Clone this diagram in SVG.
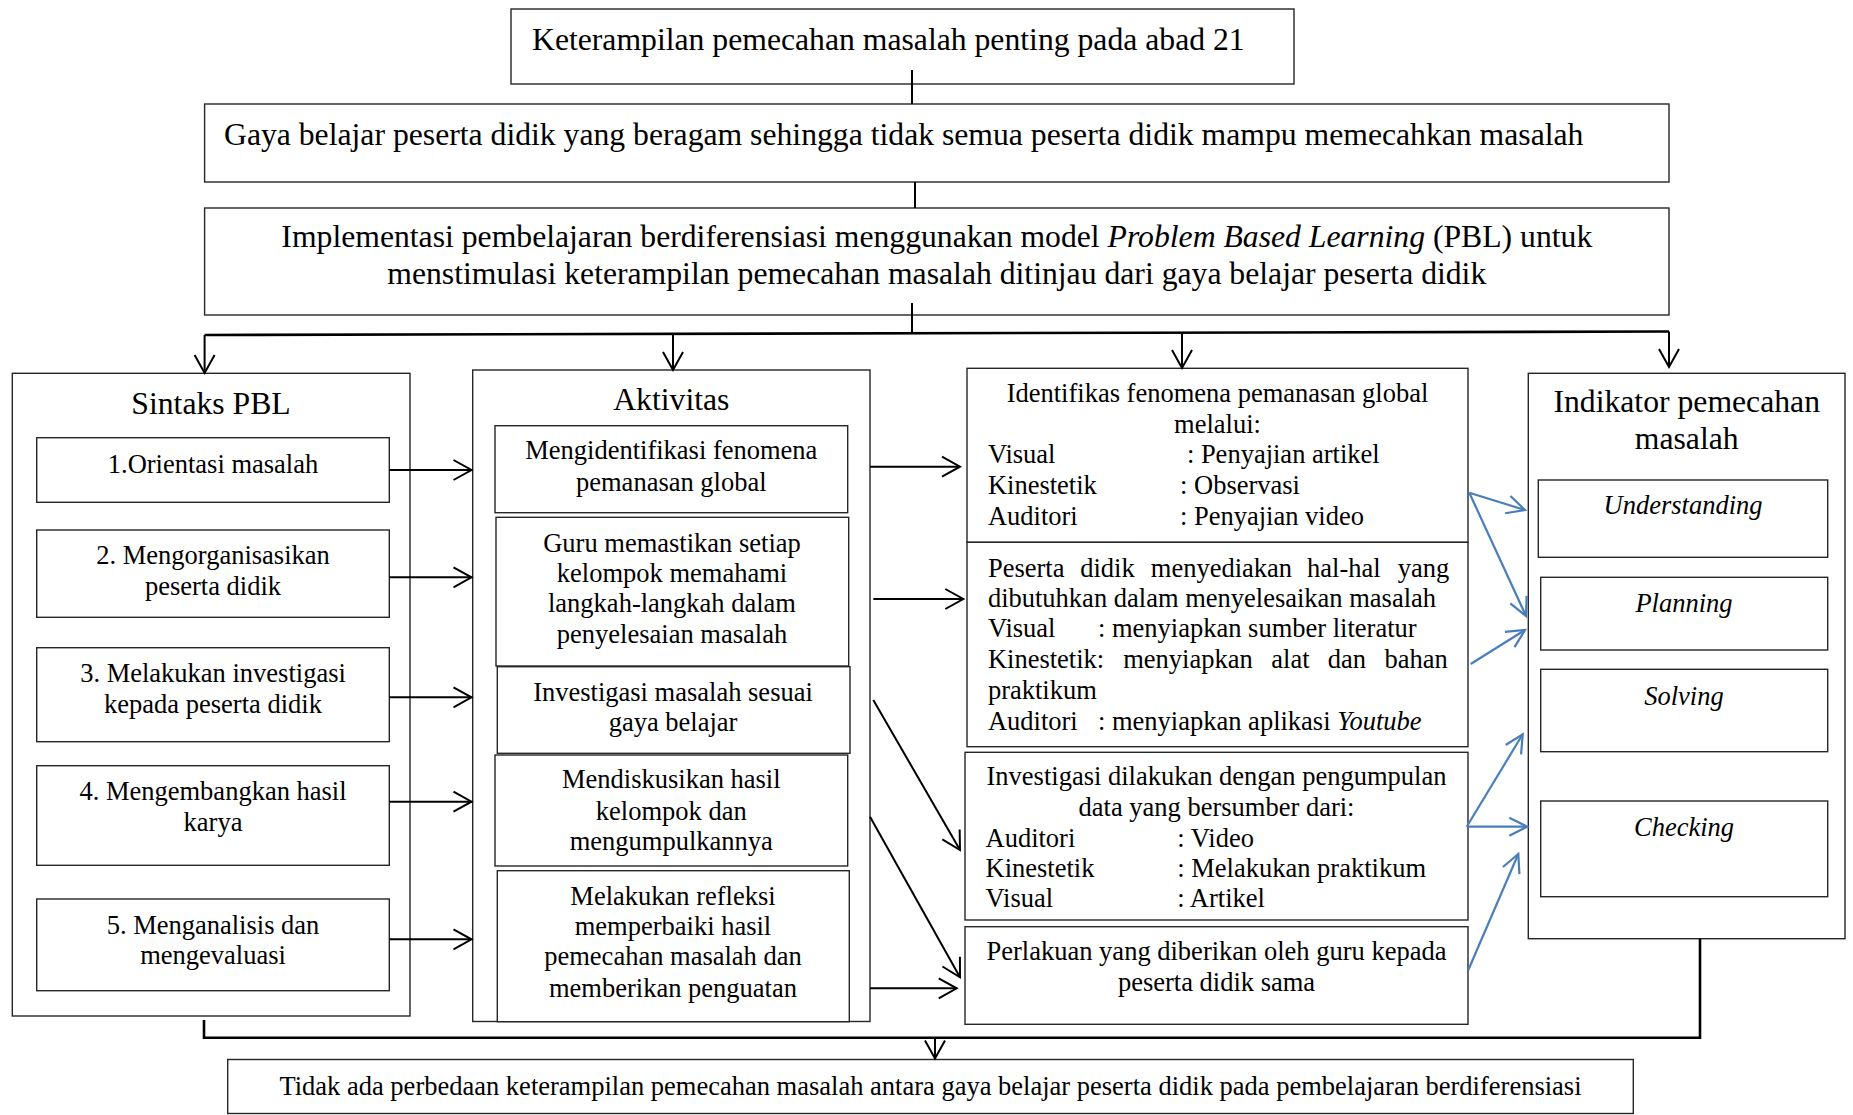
<svg xmlns="http://www.w3.org/2000/svg" width="1853" height="1115" viewBox="0 0 1853 1115">
<style>
.box{fill:#fff;stroke:#262626;stroke-width:1.4}
.t{font-family:"Liberation Serif","Times New Roman",serif;font-size:26.5px;fill:#000}
.h{font-size:31.7px}
.c{text-anchor:middle}
.i{font-style:italic}
.conn{stroke:#000;stroke-width:2;fill:none}
.thick{stroke:#000;stroke-width:2.6;fill:none}
.blue{stroke:#4a7ebb;stroke-width:2.2;fill:none}
</style>
<defs>
<marker id="ah" markerUnits="userSpaceOnUse" markerWidth="24" markerHeight="26" viewBox="0 0 24 26" refX="21" refY="13" orient="auto">
<path d="M3,3 L21,13 L3,23" fill="none" stroke="#000" stroke-width="2"/>
</marker>
<marker id="ahb" markerUnits="userSpaceOnUse" markerWidth="24" markerHeight="24" viewBox="0 0 24 24" refX="21" refY="12" orient="auto">
<path d="M3,3 L21,12 L3,21" fill="none" stroke="#4a7ebb" stroke-width="2.2"/>
</marker>
</defs>
<rect width="1853" height="1115" fill="#fff"/>

<g id="top">
<rect class="box" x="511" y="9" width="783" height="75"/>
<text class="t h" x="532" y="50">Keterampilan pemecahan masalah penting pada abad 21</text>
</g>

<g id="gaya">
<rect class="box" x="204.6" y="104" width="1464.4" height="78"/>
<text class="t h" x="224" y="144.5">Gaya belajar peserta didik yang beragam sehingga tidak semua peserta didik mampu memecahkan masalah</text>
</g>

<g id="implementasi">
<rect class="box" x="204.6" y="208" width="1464.4" height="107"/>
<text class="t h c" x="936.8" y="247">Implementasi pembelajaran berdiferensiasi menggunakan model <tspan class="i">Problem Based Learning</tspan> (PBL) untuk</text>
<text class="t h c" x="936.8" y="284">menstimulasi keterampilan pemecahan masalah ditinjau dari gaya belajar peserta didik</text>
</g>

<g id="sintaks">
<rect class="box" x="12.3" y="373.3" width="397.7" height="642.7"/>
<text class="t h c" x="211" y="414">Sintaks PBL</text>
<g id="s1"><rect class="box" x="36.7" y="437.7" width="352.6" height="64.6"/>
<text class="t c" x="213" y="472.7">1.Orientasi masalah</text></g>
<g id="s2"><rect class="box" x="36.7" y="530" width="352.6" height="87.3"/>
<text class="t c" x="213" y="564">2. Mengorganisasikan</text>
<text class="t c" x="213" y="595">peserta didik</text></g>
<g id="s3"><rect class="box" x="36.7" y="647.7" width="352.6" height="94"/>
<text class="t c" x="213" y="681.7">3. Melakukan investigasi</text>
<text class="t c" x="213" y="713.3">kepada peserta didik</text></g>
<g id="s4"><rect class="box" x="36.7" y="765.7" width="352.6" height="99.6"/>
<text class="t c" x="213" y="800">4. Mengembangkan hasil</text>
<text class="t c" x="213" y="830.7">karya</text></g>
<g id="s5"><rect class="box" x="36.7" y="899" width="352.6" height="91.7"/>
<text class="t c" x="213" y="934">5. Menganalisis dan</text>
<text class="t c" x="213" y="964">mengevaluasi</text></g>
</g>

<g id="aktivitas">
<rect class="box" x="472.7" y="370" width="397.3" height="651.5"/>
<text class="t h c" x="671.3" y="410">Aktivitas</text>
<g id="a1"><rect class="box" x="495" y="425.7" width="352.7" height="87"/>
<text class="t c" x="671.3" y="459.3">Mengidentifikasi fenomena</text>
<text class="t c" x="671.3" y="490.7">pemanasan global</text></g>
<g id="a2"><rect class="box" x="496" y="517.3" width="352.7" height="148.7"/>
<text class="t c" x="672" y="551.7">Guru memastikan setiap</text>
<text class="t c" x="672" y="581.7">kelompok memahami</text>
<text class="t c" x="672" y="612.3">langkah-langkah dalam</text>
<text class="t c" x="672" y="643.3">penyelesaian masalah</text></g>
<g id="a3"><rect class="box" x="497.3" y="666.7" width="352.7" height="86.6"/>
<text class="t c" x="673" y="700.7">Investigasi masalah sesuai</text>
<text class="t c" x="673" y="730.7">gaya belajar</text></g>
<g id="a4"><rect class="box" x="495" y="755" width="352.7" height="111"/>
<text class="t c" x="671.3" y="788.3">Mendiskusikan hasil</text>
<text class="t c" x="671.3" y="820">kelompok dan</text>
<text class="t c" x="671.3" y="850">mengumpulkannya</text></g>
<g id="a5"><rect class="box" x="497.3" y="870.7" width="352" height="151"/>
<text class="t c" x="673" y="905">Melakukan refleksi</text>
<text class="t c" x="673" y="935">memperbaiki hasil</text>
<text class="t c" x="673" y="965">pemecahan masalah dan</text>
<text class="t c" x="673" y="996.7">memberikan penguatan</text></g>
</g>

<g id="r1">
<rect class="box" x="967" y="368.3" width="501" height="174"/>
<text class="t c" x="1217.5" y="401.7">Identifikas fenomena pemanasan global</text>
<text class="t c" x="1217.5" y="432.7">melalui:</text>
<text class="t" x="987.9" y="463.3">Visual</text><text class="t" x="1186.9" y="463.3">: Penyajian artikel</text>
<text class="t" x="987.9" y="494">Kinestetik</text><text class="t" x="1180" y="494">: Observasi</text>
<text class="t" x="987.9" y="525">Auditori</text><text class="t" x="1180" y="525">: Penyajian video</text>
</g>

<g id="r2">
<rect class="box" x="967" y="542.3" width="501" height="204.4"/>
<text class="t" y="576.7"><tspan x="987.9">Peserta</tspan><tspan x="1080.2">didik</tspan><tspan x="1150.8">menyediakan</tspan><tspan x="1307.1">hal-hal</tspan><tspan x="1397.7">yang</tspan></text>
<text class="t" x="987.9" y="606.7">dibutuhkan dalam menyelesaikan masalah</text>
<text class="t" x="987.9" y="637.3">Visual</text><text class="t" x="1098" y="637.3">: menyiapkan sumber literatur</text>
<text class="t" y="668.3"><tspan x="987.9">Kinestetik:</tspan><tspan x="1123.2">menyiapkan</tspan><tspan x="1271.3">alat</tspan><tspan x="1327.7">dan</tspan><tspan x="1384.6">bahan</tspan></text>
<text class="t" x="987.9" y="699.3">praktikum</text>
<text class="t" x="987.9" y="730">Auditori</text><text class="t" x="1098" y="730">: menyiapkan aplikasi <tspan class="i">Youtube</tspan></text>
</g>

<g id="r3">
<rect class="box" x="965" y="752.3" width="503" height="167.7"/>
<text class="t c" x="1216.5" y="785">Investigasi dilakukan dengan pengumpulan</text>
<text class="t c" x="1216.5" y="816">data yang bersumber dari:</text>
<text class="t" x="985.5" y="846.7">Auditori</text><text class="t" x="1177.3" y="846.7">: Video</text>
<text class="t" x="985.5" y="876.7">Kinestetik</text><text class="t" x="1177.3" y="876.7">: Melakukan praktikum</text>
<text class="t" x="985.5" y="907.3">Visual</text><text class="t" x="1177.3" y="907.3">: Artikel</text>
</g>

<g id="r4">
<rect class="box" x="965" y="926.7" width="503" height="97.6"/>
<text class="t c" x="1216.5" y="960">Perlakuan yang diberikan oleh guru kepada</text>
<text class="t c" x="1216.5" y="990.7">peserta didik sama</text>
</g>

<g id="indikator">
<rect class="box" x="1528.3" y="373.3" width="316.7" height="565.4"/>
<text class="t h c" x="1686.7" y="411.7">Indikator pemecahan</text>
<text class="t h c" x="1686.7" y="449.3">masalah</text>
<g id="understanding"><rect class="box" x="1538.3" y="480" width="289.4" height="77.3"/>
<text class="t c i" x="1683" y="514">Understanding</text></g>
<g id="planning"><rect class="box" x="1540.7" y="577.3" width="287" height="72.7"/>
<text class="t c i" x="1684" y="612.3">Planning</text></g>
<g id="solving"><rect class="box" x="1540.7" y="669.3" width="287" height="82.4"/>
<text class="t c i" x="1684" y="705">Solving</text></g>
<g id="checking"><rect class="box" x="1540.7" y="801" width="287" height="95.7"/>
<text class="t c i" x="1684" y="836">Checking</text></g>
</g>

<g id="kesimpulan">
<rect class="box" x="227.7" y="1059.5" width="1405.6" height="54"/>
<text class="t c" x="930.5" y="1094.5">Tidak ada perbedaan keterampilan pemecahan masalah antara gaya belajar peserta didik pada pembelajaran berdiferensiasi</text>
</g>

<g id="connectors">
<line class="conn" x1="912" y1="70" x2="912" y2="104"/>
<line class="conn" x1="915" y1="182" x2="915" y2="208"/>
<line class="conn" x1="912" y1="303" x2="912" y2="333"/>
<line class="thick" x1="204.6" y1="335" x2="1669" y2="331.5"/>
<line class="conn" x1="204.6" y1="335" x2="204.6" y2="373" marker-end="url(#ah)"/>
<line class="conn" x1="673" y1="334" x2="673" y2="370" marker-end="url(#ah)"/>
<line class="conn" x1="1182" y1="333" x2="1182" y2="368" marker-end="url(#ah)"/>
<line class="conn" x1="1669" y1="331.5" x2="1669" y2="367" marker-end="url(#ah)"/>
<line class="conn" x1="389.3" y1="470" x2="471.5" y2="470" marker-end="url(#ah)"/>
<line class="conn" x1="389.3" y1="577.3" x2="471.5" y2="577.3" marker-end="url(#ah)"/>
<line class="conn" x1="389.3" y1="697.3" x2="471.5" y2="697.3" marker-end="url(#ah)"/>
<line class="conn" x1="389.3" y1="801.7" x2="471.5" y2="801.7" marker-end="url(#ah)"/>
<line class="conn" x1="389.3" y1="939.3" x2="471.5" y2="939.3" marker-end="url(#ah)"/>
<line class="conn" x1="870" y1="466.7" x2="960" y2="466.7" marker-end="url(#ah)"/>
<line class="conn" x1="873.3" y1="599" x2="963.3" y2="599" marker-end="url(#ah)"/>
<line class="conn" x1="873.3" y1="700" x2="960" y2="850" marker-end="url(#ah)"/>
<line class="conn" x1="870" y1="816.7" x2="960" y2="977.3" marker-end="url(#ah)"/>
<line class="conn" x1="870" y1="988.3" x2="956.7" y2="988.3" marker-end="url(#ah)"/>
<line class="blue" x1="1469.3" y1="492.7" x2="1525" y2="510" marker-end="url(#ahb)"/>
<line class="blue" x1="1469.3" y1="492.7" x2="1526" y2="616" marker-end="url(#ahb)"/>
<line class="blue" x1="1470.7" y1="664" x2="1525" y2="630" marker-end="url(#ahb)"/>
<line class="blue" x1="1466.7" y1="826.7" x2="1522.7" y2="734.3" marker-end="url(#ahb)"/>
<line class="blue" x1="1466.7" y1="826.7" x2="1527.3" y2="826.7" marker-end="url(#ahb)"/>
<line class="blue" x1="1468.3" y1="970" x2="1518.3" y2="854" marker-end="url(#ahb)"/>
<polyline class="thick" points="204,1020 204,1037.7 1700,1037.7 1700,938.7"/>
<line class="conn" x1="935" y1="1037.7" x2="935" y2="1058.5" marker-end="url(#ah)"/>
</g>
</svg>
